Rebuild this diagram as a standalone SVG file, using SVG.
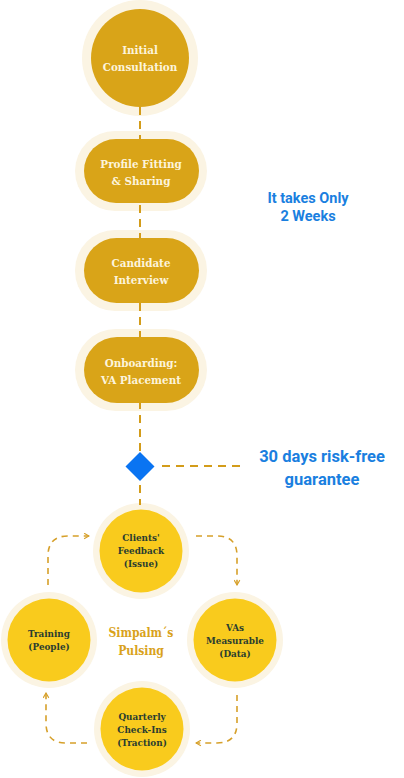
<svg xmlns="http://www.w3.org/2000/svg" width="404" height="778" viewBox="0 0 404 778">
<defs>
<style>
.halo{fill:#fbf4e3}
.step{fill:#d9a418}
.pulse{fill:#f9cb1d}
.st{font-family:"DejaVu Serif Condensed","DejaVu Serif","Liberation Serif",serif;font-weight:bold;font-size:11.5px;fill:#fdf4dc;text-anchor:middle}
.pt{font-family:"DejaVu Serif Condensed","DejaVu Serif","Liberation Serif",serif;font-weight:bold;font-size:9.8px;fill:#2a3d30;text-anchor:middle}
.blue{font-family:Roboto,"Liberation Sans",sans-serif;font-weight:bold;fill:#1a7fe0;text-anchor:middle}
.gold{font-family:"DejaVu Serif Condensed","DejaVu Serif","Liberation Serif",serif;font-weight:bold;font-size:12px;fill:#d9a21b;text-anchor:middle}
.main{fill:none;stroke:#d39c1a;stroke-width:2;stroke-dasharray:8 6}
.loop{fill:none;stroke:#d6a02a;stroke-width:1.6;stroke-dasharray:6 5;marker-end:url(#chev)}
</style>
<marker id="chev" viewBox="0 0 10 10" refX="9" refY="5" markerWidth="7" markerHeight="7" markerUnits="userSpaceOnUse" orient="auto">
<path d="M2,1 L9,5 L2,9" fill="none" stroke="#d6a02a" stroke-width="1.6"/>
</marker>
</defs>
<g id="halos">
<circle class="halo" cx="140" cy="58" r="58"/>
<rect class="halo" x="75" y="131" width="132" height="80" rx="40"/>
<rect class="halo" x="75" y="230" width="132" height="81" rx="40"/>
<rect class="halo" x="75" y="329" width="132" height="82" rx="41"/>
<circle class="halo" cx="141" cy="551" r="48"/>
<circle class="halo" cx="49" cy="640" r="48"/>
<circle class="halo" cx="235" cy="640" r="48"/>
<circle class="halo" cx="142" cy="729" r="48"/>
</g>
<g id="connectors">
<path class="main" d="M140,107 L140,505"/>
<path class="main" d="M162,466 L240,466"/>
<path class="loop" d="M48,585 L48,556 Q48,536 68,536 L89,536"/>
<path class="loop" d="M196,536 L217,536 Q237,536 237,556 L237,585"/>
<path class="loop" d="M237,695 L237,723 Q237,743 217,743 L196,743"/>
<path class="loop" d="M87,743 L66,743 Q46,743 46,723 L46,693"/>
</g>
<g id="initial-consultation">
<circle class="step" cx="140" cy="58" r="49"/>
<text class="st" x="140" y="54">Initial</text>
<text class="st" x="140" y="71">Consultation</text>
</g>
<g id="profile-fitting">
<rect class="step" x="84" y="139" width="115" height="64" rx="32"/>
<text class="st" x="141" y="168">Profile Fitting</text>
<text class="st" x="141" y="185">&amp; Sharing</text>
</g>
<g id="candidate-interview">
<rect class="step" x="84" y="238" width="115" height="65" rx="32.5"/>
<text class="st" x="141" y="267">Candidate</text>
<text class="st" x="141" y="284">Interview</text>
</g>
<g id="onboarding">
<rect class="step" x="84" y="337" width="115" height="66" rx="33"/>
<text class="st" x="141" y="367">Onboarding:</text>
<text class="st" x="141" y="384">VA Placement</text>
</g>
<g id="two-weeks">
<text class="blue" x="308" y="203" font-size="14.5">It takes Only</text>
<text class="blue" x="308" y="221" font-size="14.5">2 Weeks</text>
</g>
<g id="guarantee">
<path d="M140,452 L154.5,466.5 L140,481 L125.5,466.5 Z" fill="#0a74f2"/>
<text class="blue" x="322" y="462" font-size="16.5">30 days risk-free</text>
<text class="blue" x="322" y="485" font-size="16.5">guarantee</text>
</g>
<g id="clients-feedback">
<circle class="pulse" cx="141" cy="551" r="41.5"/>
<text class="pt" x="141" y="541">Clients'</text>
<text class="pt" x="141" y="554">Feedback</text>
<text class="pt" x="141" y="567">(Issue)</text>
</g>
<g id="training">
<circle class="pulse" cx="49" cy="640" r="41.5"/>
<text class="pt" x="49" y="637">Training</text>
<text class="pt" x="49" y="650">(People)</text>
</g>
<g id="vas-measurable">
<circle class="pulse" cx="235" cy="640" r="41.5"/>
<text class="pt" x="235" y="631">VAs</text>
<text class="pt" x="235" y="644">Measurable</text>
<text class="pt" x="235" y="657">(Data)</text>
</g>
<g id="quarterly">
<circle class="pulse" cx="142" cy="729" r="41.5"/>
<text class="pt" x="142" y="720">Quarterly</text>
<text class="pt" x="142" y="733">Check-Ins</text>
<text class="pt" x="142" y="746">(Traction)</text>
</g>
<g id="pulsing-label">
<text class="gold" x="141" y="637">Simpalm´s</text>
<text class="gold" x="141" y="655">Pulsing</text>
</g>
</svg>
